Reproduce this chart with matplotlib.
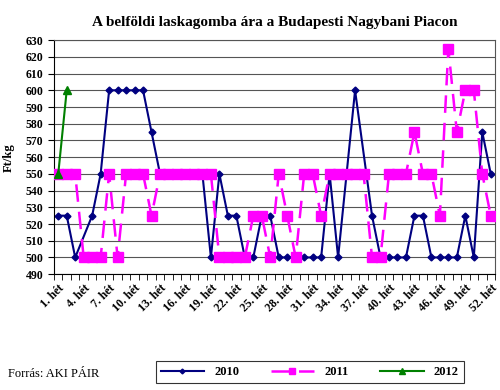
import numpy as np
import matplotlib
matplotlib.use('Agg')
import matplotlib.pyplot as plt

plt.rcParams['font.family'] = ['Liberation Serif', 'DejaVu Serif']

weeks = np.arange(1, 53)
nan = np.nan
ar_2010 = [525, 525, 500, nan, 525, 550, 600, 600, 600, 600, 600, 575, 550,
           550, 550, 550, 550, 550, 500, 550, 525, 525, 500, 500, 525, 525,
           500, 500, 500, 500, 500, 500, 550, 500, 550, 600, nan, 525, 500,
           500, 500, 500, 525, 525, 500, 500, 500, 500, 525, 500, 575, 550]
ar_2011 = [550, 550, 550, 500, 500, 500, 550, 500, 550, 550, 550, 525, 550,
           550, 550, 550, 550, 550, 550, 500, 500, 500, 500, 525, 525, 500,
           550, 525, 500, 550, 550, 525, 550, 550, 550, 550, 550, 500, 500,
           550, 550, 550, 575, 550, 550, 525, 625, 575, 600, 600, 550, 525]
het_2012 = [1, 2]
ar_2012 = [550, 600]
label_weeks = list(range(1, 53, 3))
tick_labels = [f'{w}. hét' for w in label_weeks]

fig = plt.figure(figsize=(5, 3.9), dpi=100)
ax = fig.add_axes([0.108, 0.297, 0.882, 0.6])

y10 = np.array(ar_2010, dtype=float)
ok = ~np.isnan(y10)
ax.plot(weeks[ok], y10[ok], color='#000080', marker='D', markersize=3.5,
        linewidth=1.5, label='2010', zorder=2)
ax.plot(weeks, ar_2011, color='#FF00FF', marker='s', markersize=6.5,
        linewidth=1.8, linestyle=(0, (7, 4)), label='2011', zorder=3)
ax.plot(het_2012, ar_2012, color='#008000', marker='^', markersize=6,
        linewidth=1.5, label='2012', zorder=4)

ax.set_xlim(0.5, 52.5)
ax.set_ylim(490, 630)
ax.set_yticks(np.arange(490, 631, 10))
ax.yaxis.grid(True, color='#555555', linewidth=0.8)
ax.set_axisbelow(True)

ax.set_xticks(np.arange(0.5, 53, 1), minor=True)
ax.set_xticks(label_weeks)
ax.set_xticklabels(tick_labels, rotation=45, ha='right', rotation_mode='anchor',
                   fontsize=8.5, fontweight='bold')
ax.tick_params(axis='x', which='major', length=0, pad=6)
ax.tick_params(axis='x', which='minor', length=4, direction='out')
ax.tick_params(axis='y', length=4, direction='out', labelsize=8.5)
for t in ax.get_yticklabels():
    t.set_fontweight('bold')

for s in ax.spines.values():
    s.set_color('#555555')
    s.set_linewidth(0.8)
ax.spines['left'].set_color('black')
ax.spines['bottom'].set_color('black')

ax.set_ylabel('Ft/kg', fontsize=9, fontweight='bold', labelpad=8)
ax.set_title('A belföldi laskagomba ára a Budapesti Nagybani Piacon',
             fontsize=11, fontweight='bold', pad=10)

leg = fig.legend(loc='center', bbox_to_anchor=(0.619, 0.045), ncol=3,
                 frameon=True, fancybox=False, edgecolor='black',
                 prop={'weight': 'bold', 'size': 9}, handlelength=3.5,
                 columnspacing=2.5, borderpad=0.4, markerscale=0.7)
leg.get_frame().set_linewidth(0.8)

fig.text(0.016, 0.04, 'Forrás: AKI PÁIR', fontsize=9, va='center')

fig.savefig('out.png', dpi=100)
